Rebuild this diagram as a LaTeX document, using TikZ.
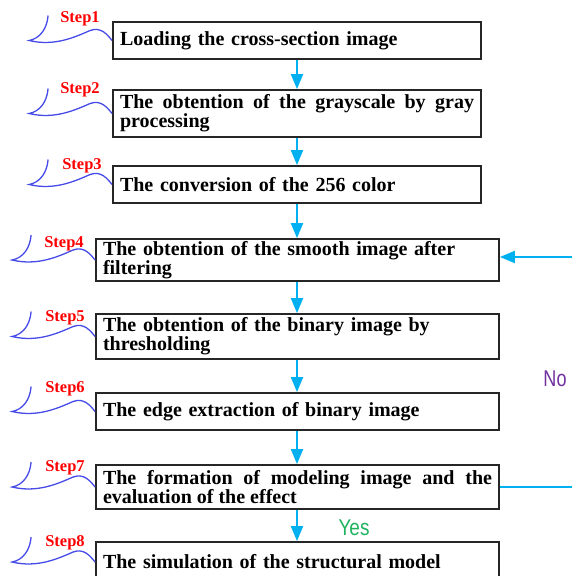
\documentclass[tikz,border=0pt]{standalone}
\usepackage{fontspec}
\setmainfont{Liberation Serif}
\newfontfamily\sansf{Liberation Sans}
\usetikzlibrary{calc,arrows.meta}
\definecolor{flowblue}{RGB}{0,176,240}
\definecolor{wavecol}{RGB}{70,75,232}
\definecolor{nopurple}{RGB}{112,48,160}
\definecolor{yesgreen}{RGB}{30,180,95}
\tikzset{
  boxA/.style={draw=black!85, line width=1.8pt, inner xsep=7pt, inner ysep=0pt,
    text width=354pt, font=\bfseries\fontsize{20}{15}\selectfont},
  boxB/.style={boxA, text width=389pt},
  flow/.style={draw=flowblue, line width=2pt, -{Triangle[length=15pt,width=12pt]}},
  flowline/.style={draw=flowblue, line width=2pt},
  wave/.style={draw=wavecol, line width=1.3pt},
  steplab/.style={text=red, font=\bfseries\fontsize{16.5}{16.5}\selectfont, inner sep=0pt},
  answer/.style={font=\sansf\fontsize{19}{19}\selectfont, inner sep=0pt},
}
\newcommand{\stepwave}[1]{%
  \draw[wave] ($(#1.west)+(-64,-25)$) .. controls ($(#1.west)+(-65,-12)$) and ($(#1.west)+(-72,-2)$) .. ($(#1.west)+(-83,0)$)
    .. controls ($(#1.west)+(-58,6)$) and ($(#1.west)+(-38,-3)$) .. ($(#1.west)+(-22,-10)$)
    .. controls ($(#1.west)+(-11,-14)$) and ($(#1.west)+(-5,-6)$) .. (#1.west);}
\begin{document}
\begin{tikzpicture}[x=1pt,y=-1pt]
\useasboundingbox (0,0) rectangle (572,576);
\clip (0,0) rectangle (572,576);
\node[boxA, minimum height=37pt, align=left] (b1) at (297,40.5) {Loading the cross-section image};
\node[boxA, minimum height=47pt, align=justify] (b2) at (297,113.5) {The obtention of the grayscale by gray\linebreak processing};
\node[boxA, minimum height=37pt, align=left] (b3) at (297,184.5) {The conversion of the 256 color};
\node[boxB, minimum height=42pt, align=left] (b4) at (297.5,260) {The obtention of the smooth image after\\filtering};
\node[boxB, minimum height=45pt, align=left] (b5) at (297.5,336.5) {The obtention of the binary image by\\thresholding};
\node[boxB, minimum height=37pt, align=left] (b6) at (297.5,411.5) {The edge extraction of binary image};
\node[boxB, minimum height=44pt, align=justify] (b7) at (297.5,487) {The formation of modeling image and the\linebreak evaluation of the effect};
\node[boxB, minimum height=40pt, align=left] (b8) at (297.5,562) {The simulation of the structural model};

\node[steplab] (s1) at (80,19) {Step1};
\node[steplab] (s2) at (80,90) {Step2};
\node[steplab] (s3) at (82,166) {Step3};
\node[steplab] (s4) at (64,244) {Step4};
\node[steplab] (s5) at (65,318) {Step5};
\node[steplab] (s6) at (65,389) {Step6};
\node[steplab] (s7) at (65,468) {Step7};
\node[steplab] (s8) at (65,543) {Step8};

\stepwave{b1}\stepwave{b2}\stepwave{b3}\stepwave{b4}
\stepwave{b5}\stepwave{b6}\stepwave{b7}\stepwave{b8}

\draw[flow] (b1.south -| 297,0) -- (b2.north -| 297,0);
\draw[flow] (b2.south -| 297,0) -- (b3.north -| 297,0);
\draw[flow] (b3.south -| 297,0) -- (b4.north -| 297,0);
\draw[flow] (b4.south -| 297,0) -- (b5.north -| 297,0);
\draw[flow] (b5.south -| 297,0) -- (b6.north -| 297,0);
\draw[flow] (b6.south -| 297,0) -- (b7.north -| 297,0);
\draw[flow] (b7.south -| 297,0) -- (b8.north -| 297,0);

\coordinate (fb) at (590,380);
\draw[flowline] (b7.east) -| (fb);
\draw[flow] (fb) |- ($(b4.east)+(0,-3)$);

\node[answer, text=nopurple] (no) at (555,379) {\scalebox{0.95}[1.2]{No}};
\node[answer, text=yesgreen] (yes) at (354,528) {\scalebox{1}[1.2]{Yes}};
\end{tikzpicture}
\end{document}
